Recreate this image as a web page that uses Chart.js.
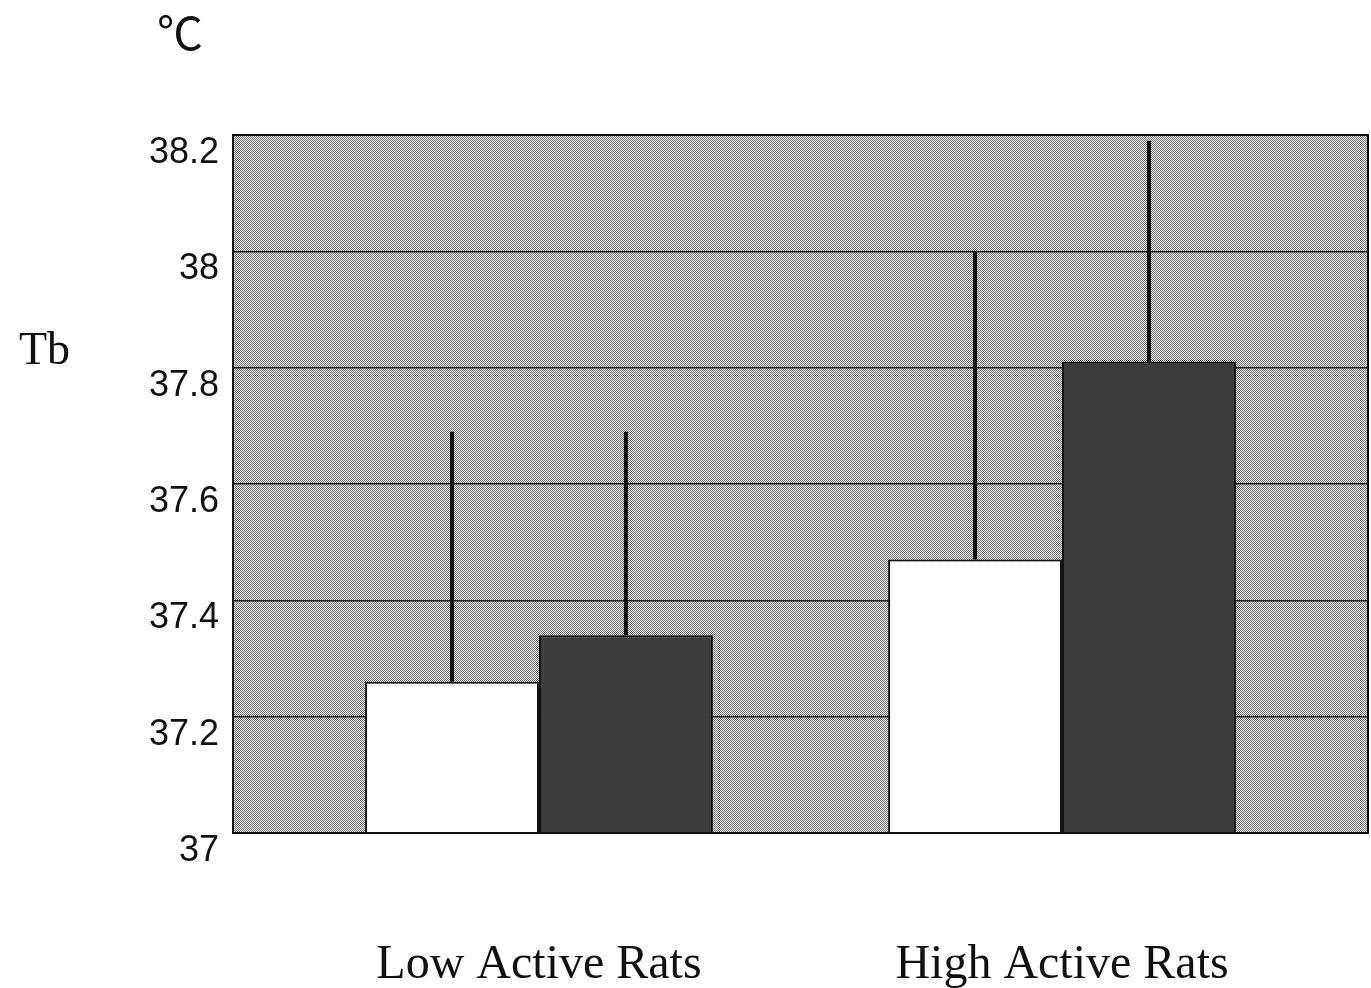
<!DOCTYPE html>
<html>
<head>
<meta charset="utf-8">
<script src="https://cdn.jsdelivr.net/npm/chart.js@4/dist/chart.umd.min.js"></script>
<style>
  html, body { margin: 0; padding: 0; background: #fff; }
  #wrap { width: 1371px; height: 988px; }
</style>
</head>
<body>
<div id="wrap"><canvas id="tbChart"></canvas></div>
<script>
// data
const groups = ['Low Active Rats', 'High Active Rats'];
const groupPos = [0, 1];
const controlMeans = [37.26, 37.47];   // white bars
const controlSD = [0.43, 0.53];
const treatedMeans = [37.34, 37.81];   // dark bars
const treatedSD = [0.35, 0.38];
const yTicks = [37, 37.2, 37.4, 37.6, 37.8, 38, 38.2];

// checker pattern for plot background
const patCanvas = document.createElement('canvas');
patCanvas.width = 2; patCanvas.height = 2;
const pctx = patCanvas.getContext('2d');
pctx.fillStyle = '#f2f2f2'; pctx.fillRect(0, 0, 2, 2);
pctx.fillStyle = '#707070'; pctx.fillRect(0, 0, 1, 1); pctx.fillRect(1, 1, 1, 1);

const ctx = document.getElementById('tbChart').getContext('2d');
const bgPattern = ctx.createPattern(patCanvas, 'repeat');

// plot background + frame
const plotBg = {
    id: 'plotBg',
    beforeDraw: (chart) => {
        const a = chart.chartArea;
        const c = chart.ctx;
        c.save();
        c.fillStyle = bgPattern;
        c.fillRect(a.left, a.top, a.right - a.left, a.bottom - a.top);
        c.restore();
    },
    afterDraw: (chart) => {
        const a = chart.chartArea;
        const c = chart.ctx;
        c.save();
        c.strokeStyle = '#111';
        c.lineWidth = 2;
        c.strokeRect(a.left, a.top, a.right - a.left, a.bottom - a.top);
        // unit and axis name
        c.fillStyle = '#111';
        c.font = '46px "Noto Sans CJK JP", "Liberation Sans", sans-serif';
        c.textBaseline = 'alphabetic';
        c.fillText('℃', 157, 50);
        c.font = '46px "Liberation Serif", "Times New Roman", serif';
        c.fillText('Tb', 19, 364);
        c.restore();
    }
};

// upward error bars
const errorBars = {
    id: 'errorBars',
    afterDatasetsDraw: (chart) => {
        const c = chart.ctx;
        const y = chart.scales.y;
        const sds = [controlSD, treatedSD];
        c.save();
        c.strokeStyle = '#111';
        c.lineWidth = 4;
        chart.data.datasets.forEach((ds, di) => {
            const meta = chart.getDatasetMeta(di);
            meta.data.forEach((bar, i) => {
                const v = ds.data[i].y;
                c.beginPath();
                c.moveTo(bar.x, y.getPixelForValue(v));
                c.lineTo(bar.x, y.getPixelForValue(v + sds[di][i]));
                c.stroke();
            });
        });
        c.restore();
    }
};

new Chart(ctx, {
    type: 'bar',
    data: {
        datasets: [{
            label: 'control',
            data: groupPos.map((x, i) => ({ x: x, y: controlMeans[i] })),
            backgroundColor: '#ffffff',
            borderColor: '#111',
            borderWidth: 2,
            barPercentage: 1.0,
            categoryPercentage: 0.665
        }, {
            label: 'treated',
            data: groupPos.map((x, i) => ({ x: x, y: treatedMeans[i] })),
            backgroundColor: '#3d3d3d',
            borderColor: '#111',
            borderWidth: 2,
            barPercentage: 1.0,
            categoryPercentage: 0.665
        }]
    },
    options: {
        responsive: true,
        maintainAspectRatio: false,
        animation: false,
        layout: { padding: { left: 0, right: 3, top: 135, bottom: 0 } },
        plugins: {
            legend: { display: false },
            tooltip: { enabled: false }
        },
        scales: {
            x: {
                type: 'linear',
                min: -0.585,
                max: 1.585,
                offset: false,
                afterBuildTicks: (scale) => {
                    scale.ticks = groupPos.map(v => ({ value: v }));
                },
                afterFit: (scale) => { scale.height = 155; },
                grid: { display: false, drawTicks: false },
                border: { display: true, color: '#111', width: 2 },
                ticks: {
                    padding: 104,
                    color: '#111',
                    font: { family: '"Liberation Serif", "Times New Roman", serif', size: 48 },
                    callback: (v) => groups[groupPos.indexOf(v)] || ''
                }
            },
            y: {
                min: 37,
                max: 38.2,
                afterBuildTicks: (scale) => {
                    scale.ticks = yTicks.map(v => ({ value: v }));
                },
                afterFit: (scale) => { scale.width = 233; },
                grid: { color: '#222', lineWidth: 1.5, drawTicks: false },
                border: { display: true, color: '#111', width: 2 },
                ticks: {
                    padding: 14,
                    labelOffset: 18,
                    color: '#111',
                    font: { family: '"Liberation Sans", Arial, sans-serif', size: 36 },
                    callback: (v) => String(Number(v.toFixed(1)))
                }
            }
        }
    },
    plugins: [plotBg, errorBars]
});
</script>
</body>
</html>
